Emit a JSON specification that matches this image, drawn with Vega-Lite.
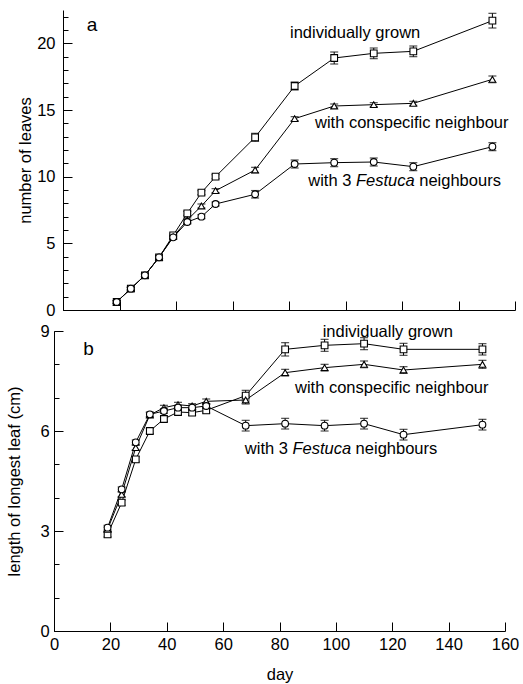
{
  "$schema": "https://vega.github.io/schema/vega-lite/v6.json",
  "padding": {"left": 6, "top": 10, "right": 5, "bottom": 0},
  "config": {
    "font": "Liberation Sans",
    "view": {"stroke": null},
    "axis": {"domainColor": "black", "tickColor": "black", "labelColor": "black", "titleColor": "black", "labelFontSize": 16.5, "titleFontSize": 16.5, "titleFontWeight": "normal", "grid": false, "domainWidth": 1, "tickWidth": 1, "labelFont": "Liberation Sans", "titleFont": "Liberation Sans", "labelFlush": false},
    "text": {"font": "Liberation Sans", "fontSize": 16.5, "color": "black"}
  },
  "datasets": {
    "d": [
      {"panel": "a", "series": "individually grown", "day": 19, "mean": 0.6, "lo": 0.5, "hi": 0.7},
      {"panel": "a", "series": "individually grown", "day": 24, "mean": 1.6, "lo": 1.5, "hi": 1.7},
      {"panel": "a", "series": "individually grown", "day": 29, "mean": 2.6, "lo": 2.5, "hi": 2.7},
      {"panel": "a", "series": "individually grown", "day": 34, "mean": 3.95, "lo": 3.85, "hi": 4.05},
      {"panel": "a", "series": "individually grown", "day": 39, "mean": 5.6, "lo": 5.5, "hi": 5.7},
      {"panel": "a", "series": "individually grown", "day": 44, "mean": 7.25, "lo": 7.1, "hi": 7.4},
      {"panel": "a", "series": "individually grown", "day": 49, "mean": 8.8, "lo": 8.65, "hi": 8.95},
      {"panel": "a", "series": "individually grown", "day": 54, "mean": 10.0, "lo": 9.85, "hi": 10.15},
      {"panel": "a", "series": "individually grown", "day": 68, "mean": 12.95, "lo": 12.65, "hi": 13.25},
      {"panel": "a", "series": "individually grown", "day": 82, "mean": 16.8, "lo": 16.5, "hi": 17.1},
      {"panel": "a", "series": "individually grown", "day": 96, "mean": 18.9, "lo": 18.45, "hi": 19.35},
      {"panel": "a", "series": "individually grown", "day": 110, "mean": 19.25, "lo": 18.85, "hi": 19.65},
      {"panel": "a", "series": "individually grown", "day": 124, "mean": 19.4, "lo": 19.0, "hi": 19.8},
      {"panel": "a", "series": "individually grown", "day": 152, "mean": 21.7, "lo": 21.15, "hi": 22.25},
      {"panel": "a", "series": "with conspecific neighbour", "day": 19, "mean": 0.6, "lo": 0.5, "hi": 0.7},
      {"panel": "a", "series": "with conspecific neighbour", "day": 24, "mean": 1.6, "lo": 1.5, "hi": 1.7},
      {"panel": "a", "series": "with conspecific neighbour", "day": 29, "mean": 2.6, "lo": 2.5, "hi": 2.7},
      {"panel": "a", "series": "with conspecific neighbour", "day": 34, "mean": 3.95, "lo": 3.85, "hi": 4.05},
      {"panel": "a", "series": "with conspecific neighbour", "day": 39, "mean": 5.5, "lo": 5.4, "hi": 5.6},
      {"panel": "a", "series": "with conspecific neighbour", "day": 44, "mean": 6.75, "lo": 6.6, "hi": 6.9},
      {"panel": "a", "series": "with conspecific neighbour", "day": 49, "mean": 7.8, "lo": 7.65, "hi": 7.95},
      {"panel": "a", "series": "with conspecific neighbour", "day": 54, "mean": 8.95, "lo": 8.8, "hi": 9.1},
      {"panel": "a", "series": "with conspecific neighbour", "day": 68, "mean": 10.5, "lo": 10.3, "hi": 10.7},
      {"panel": "a", "series": "with conspecific neighbour", "day": 82, "mean": 14.35, "lo": 14.2, "hi": 14.5},
      {"panel": "a", "series": "with conspecific neighbour", "day": 96, "mean": 15.3, "lo": 15.15, "hi": 15.45},
      {"panel": "a", "series": "with conspecific neighbour", "day": 110, "mean": 15.4, "lo": 15.25, "hi": 15.55},
      {"panel": "a", "series": "with conspecific neighbour", "day": 124, "mean": 15.5, "lo": 15.35, "hi": 15.65},
      {"panel": "a", "series": "with conspecific neighbour", "day": 152, "mean": 17.3, "lo": 17.05, "hi": 17.55},
      {"panel": "a", "series": "with 3 Festuca neighbours", "day": 19, "mean": 0.6, "lo": 0.5, "hi": 0.7},
      {"panel": "a", "series": "with 3 Festuca neighbours", "day": 24, "mean": 1.6, "lo": 1.5, "hi": 1.7},
      {"panel": "a", "series": "with 3 Festuca neighbours", "day": 29, "mean": 2.6, "lo": 2.5, "hi": 2.7},
      {"panel": "a", "series": "with 3 Festuca neighbours", "day": 34, "mean": 3.95, "lo": 3.85, "hi": 4.05},
      {"panel": "a", "series": "with 3 Festuca neighbours", "day": 39, "mean": 5.45, "lo": 5.35, "hi": 5.55},
      {"panel": "a", "series": "with 3 Festuca neighbours", "day": 44, "mean": 6.6, "lo": 6.45, "hi": 6.75},
      {"panel": "a", "series": "with 3 Festuca neighbours", "day": 49, "mean": 7.0, "lo": 6.85, "hi": 7.15},
      {"panel": "a", "series": "with 3 Festuca neighbours", "day": 54, "mean": 7.95, "lo": 7.8, "hi": 8.1},
      {"panel": "a", "series": "with 3 Festuca neighbours", "day": 68, "mean": 8.68, "lo": 8.4, "hi": 8.96},
      {"panel": "a", "series": "with 3 Festuca neighbours", "day": 82, "mean": 10.95, "lo": 10.65, "hi": 11.25},
      {"panel": "a", "series": "with 3 Festuca neighbours", "day": 96, "mean": 11.05, "lo": 10.75, "hi": 11.35},
      {"panel": "a", "series": "with 3 Festuca neighbours", "day": 110, "mean": 11.1, "lo": 10.8, "hi": 11.4},
      {"panel": "a", "series": "with 3 Festuca neighbours", "day": 124, "mean": 10.75, "lo": 10.45, "hi": 11.05},
      {"panel": "a", "series": "with 3 Festuca neighbours", "day": 152, "mean": 12.25, "lo": 11.95, "hi": 12.55},
      {"panel": "b", "series": "individually grown", "day": 19, "mean": 2.9, "lo": 2.82, "hi": 2.98},
      {"panel": "b", "series": "individually grown", "day": 24, "mean": 3.85, "lo": 3.77, "hi": 3.93},
      {"panel": "b", "series": "individually grown", "day": 29, "mean": 5.15, "lo": 5.07, "hi": 5.23},
      {"panel": "b", "series": "individually grown", "day": 34, "mean": 6.0, "lo": 5.92, "hi": 6.08},
      {"panel": "b", "series": "individually grown", "day": 39, "mean": 6.36, "lo": 6.28, "hi": 6.44},
      {"panel": "b", "series": "individually grown", "day": 44, "mean": 6.57, "lo": 6.49, "hi": 6.65},
      {"panel": "b", "series": "individually grown", "day": 49, "mean": 6.55, "lo": 6.47, "hi": 6.63},
      {"panel": "b", "series": "individually grown", "day": 54, "mean": 6.62, "lo": 6.54, "hi": 6.7},
      {"panel": "b", "series": "individually grown", "day": 68, "mean": 7.06, "lo": 6.9, "hi": 7.22},
      {"panel": "b", "series": "individually grown", "day": 82, "mean": 8.45, "lo": 8.25, "hi": 8.65},
      {"panel": "b", "series": "individually grown", "day": 96, "mean": 8.57, "lo": 8.39, "hi": 8.75},
      {"panel": "b", "series": "individually grown", "day": 110, "mean": 8.62, "lo": 8.44, "hi": 8.8},
      {"panel": "b", "series": "individually grown", "day": 124, "mean": 8.45, "lo": 8.27, "hi": 8.63},
      {"panel": "b", "series": "individually grown", "day": 152, "mean": 8.45, "lo": 8.28, "hi": 8.62},
      {"panel": "b", "series": "with conspecific neighbour", "day": 19, "mean": 3.05, "lo": 2.98, "hi": 3.12},
      {"panel": "b", "series": "with conspecific neighbour", "day": 24, "mean": 4.1, "lo": 4.03, "hi": 4.17},
      {"panel": "b", "series": "with conspecific neighbour", "day": 29, "mean": 5.5, "lo": 5.43, "hi": 5.57},
      {"panel": "b", "series": "with conspecific neighbour", "day": 34, "mean": 6.48, "lo": 6.41, "hi": 6.55},
      {"panel": "b", "series": "with conspecific neighbour", "day": 39, "mean": 6.7, "lo": 6.63, "hi": 6.77},
      {"panel": "b", "series": "with conspecific neighbour", "day": 44, "mean": 6.79, "lo": 6.72, "hi": 6.86},
      {"panel": "b", "series": "with conspecific neighbour", "day": 49, "mean": 6.75, "lo": 6.68, "hi": 6.82},
      {"panel": "b", "series": "with conspecific neighbour", "day": 54, "mean": 6.89, "lo": 6.82, "hi": 6.96},
      {"panel": "b", "series": "with conspecific neighbour", "day": 68, "mean": 6.93, "lo": 6.81, "hi": 7.05},
      {"panel": "b", "series": "with conspecific neighbour", "day": 82, "mean": 7.75, "lo": 7.65, "hi": 7.85},
      {"panel": "b", "series": "with conspecific neighbour", "day": 96, "mean": 7.9, "lo": 7.8, "hi": 8.0},
      {"panel": "b", "series": "with conspecific neighbour", "day": 110, "mean": 8.0, "lo": 7.9, "hi": 8.1},
      {"panel": "b", "series": "with conspecific neighbour", "day": 124, "mean": 7.83, "lo": 7.73, "hi": 7.93},
      {"panel": "b", "series": "with conspecific neighbour", "day": 152, "mean": 8.0, "lo": 7.88, "hi": 8.12},
      {"panel": "b", "series": "with 3 Festuca neighbours", "day": 19, "mean": 3.1, "lo": 3.03, "hi": 3.17},
      {"panel": "b", "series": "with 3 Festuca neighbours", "day": 24, "mean": 4.25, "lo": 4.18, "hi": 4.32},
      {"panel": "b", "series": "with 3 Festuca neighbours", "day": 29, "mean": 5.66, "lo": 5.59, "hi": 5.73},
      {"panel": "b", "series": "with 3 Festuca neighbours", "day": 34, "mean": 6.5, "lo": 6.43, "hi": 6.57},
      {"panel": "b", "series": "with 3 Festuca neighbours", "day": 39, "mean": 6.6, "lo": 6.53, "hi": 6.67},
      {"panel": "b", "series": "with 3 Festuca neighbours", "day": 44, "mean": 6.7, "lo": 6.63, "hi": 6.77},
      {"panel": "b", "series": "with 3 Festuca neighbours", "day": 49, "mean": 6.7, "lo": 6.63, "hi": 6.77},
      {"panel": "b", "series": "with 3 Festuca neighbours", "day": 54, "mean": 6.75, "lo": 6.68, "hi": 6.82},
      {"panel": "b", "series": "with 3 Festuca neighbours", "day": 68, "mean": 6.16, "lo": 6.0, "hi": 6.32},
      {"panel": "b", "series": "with 3 Festuca neighbours", "day": 82, "mean": 6.22, "lo": 6.06, "hi": 6.38},
      {"panel": "b", "series": "with 3 Festuca neighbours", "day": 96, "mean": 6.16, "lo": 6.0, "hi": 6.32},
      {"panel": "b", "series": "with 3 Festuca neighbours", "day": 110, "mean": 6.22, "lo": 6.06, "hi": 6.38},
      {"panel": "b", "series": "with 3 Festuca neighbours", "day": 124, "mean": 5.89, "lo": 5.73, "hi": 6.05},
      {"panel": "b", "series": "with 3 Festuca neighbours", "day": 152, "mean": 6.19, "lo": 6.03, "hi": 6.35}
    ],
    "notes": [
      {"panel": "a", "day": 80.35, "val": 20.75, "text": "individually grown"},
      {"panel": "a", "day": 89.2, "val": 14.05, "text": "with conspecific neighbour"},
      {"panel": "a", "day": 86.8, "val": 9.67, "text": "with 3"},
      {"panel": "a", "day": 126.1, "val": 9.67, "text": "neighbours"},
      {"panel": "b", "day": 95.3, "val": 8.97, "text": "individually grown"},
      {"panel": "b", "day": 85.5, "val": 7.29, "text": "with conspecific neighbour"},
      {"panel": "b", "day": 67.7, "val": 5.45, "text": "with 3"},
      {"panel": "b", "day": 107.0, "val": 5.45, "text": "neighbours"}
    ],
    "italic": [
      {"panel": "a", "day": 103.7, "val": 9.67, "text": "Festuca"},
      {"panel": "b", "day": 84.6, "val": 5.45, "text": "Festuca"}
    ],
    "letters": [
      {"panel": "a", "day": 8.4, "val": 21.35, "text": "a"},
      {"panel": "b", "day": 10.4, "val": 8.45, "text": "b"}
    ]
  },
  "columns": 1,
  "align": "none",
  "spacing": 4,
  "concat": [
    {
      "width": 461,
      "height": 300,
      "resolve": {"axis": {"y": "independent"}},
      "layer": [
        {
          "data": {"name": "d"},
          "transform": [{"filter": "datum.panel === 'a'"}],
          "mark": {"type": "rule", "color": "black", "strokeWidth": 1},
          "encoding": {
            "x": {"field": "day", "type": "quantitative", "scale": {"domain": [0, 160], "range": [9, 461], "nice": false, "zero": false}, "title": null,
                  "axis": {"values": [0,10,20,30,40,50,60,70,80,90,100,110,120,130,140,150,160], "labels": false,
                           "tickSize": {"condition": {"test": "datum.value % 20 === 0", "value": -9}, "value": -5}}},
            "y": {"field": "lo", "type": "quantitative", "scale": {"domain": [0, 22.5], "nice": false}, "title": "number of leaves",
                  "axis": {"orient": "left", "values": [0, 5, 10, 15, 20], "offset": -9, "labelOverlap": false,
                           "labelPadding": 17, "titlePadding": 3, "tickSize": -9}},
            "y2": {"field": "hi"}
          }
        },
        {
          "data": {"name": "d"},
          "transform": [{"filter": "datum.panel === 'a'"}],
          "mark": {"type": "tick", "orient": "horizontal", "size": 8, "thickness": 1.2, "color": "black"},
          "encoding": {"x": {"field": "day", "type": "quantitative", "title": null}, "y": {"field": "lo", "type": "quantitative", "axis": null}}
        },
        {
          "data": {"name": "d"},
          "transform": [{"filter": "datum.panel === 'a'"}],
          "mark": {"type": "tick", "orient": "horizontal", "size": 8, "thickness": 1.2, "color": "black"},
          "encoding": {"x": {"field": "day", "type": "quantitative", "title": null}, "y": {"field": "hi", "type": "quantitative", "axis": null}}
        },
        {
          "data": {"name": "d"},
          "transform": [{"filter": "datum.panel === 'a'"}],
          "mark": {"type": "line", "color": "black", "strokeWidth": 1},
          "encoding": {"x": {"field": "day", "type": "quantitative", "title": null},
                       "y": {"field": "mean", "type": "quantitative", "title": null,
                             "axis": {"orient": "left", "values": [0,1,2,3,4,5,6,7,8,9,10,11,12,13,14,15,16,17,18,19,20,21,22], "offset": -9, "labels": false, "domain": false, "tickSize": -5}},
                       "detail": {"field": "series"}}
        },
        {
          "data": {"name": "d"},
          "transform": [{"filter": "datum.panel === 'a'"}],
          "mark": {"type": "point", "filled": true, "fill": "white", "stroke": "black", "strokeWidth": 1.1, "size": 45, "opacity": 1},
          "encoding": {"x": {"field": "day", "type": "quantitative", "title": null}, "y": {"field": "mean", "type": "quantitative", "axis": null},
                       "shape": {"field": "series", "type": "nominal", "legend": null, "scale": {"domain": ["individually grown", "with conspecific neighbour", "with 3 Festuca neighbours"], "range": ["square", "triangle-up", "circle"]}}}
        },
        {
          "data": {"name": "notes"},
          "transform": [{"filter": "datum.panel === 'a'"}],
          "mark": {"type": "text", "align": "left", "baseline": "middle"},
          "encoding": {"x": {"field": "day", "type": "quantitative", "title": null}, "y": {"field": "val", "type": "quantitative", "axis": null}, "text": {"field": "text"}}
        },
        {
          "data": {"name": "italic"},
          "transform": [{"filter": "datum.panel === 'a'"}],
          "mark": {"type": "text", "align": "left", "baseline": "middle", "fontStyle": "italic"},
          "encoding": {"x": {"field": "day", "type": "quantitative", "title": null}, "y": {"field": "val", "type": "quantitative", "axis": null}, "text": {"field": "text"}}
        },
        {
          "data": {"name": "letters"},
          "transform": [{"filter": "datum.panel === 'a'"}],
          "mark": {"type": "text", "align": "left", "baseline": "middle", "fontSize": 19},
          "encoding": {"x": {"field": "day", "type": "quantitative", "title": null}, "y": {"field": "val", "type": "quantitative", "axis": null}, "text": {"field": "text"}}
        }
      ]
    },
    {
      "width": 451,
      "height": 300,
      "resolve": {"axis": {"y": "independent"}},
      "layer": [
        {
          "data": {"name": "d"},
          "transform": [{"filter": "datum.panel === 'b'"}],
          "mark": {"type": "rule", "color": "black", "strokeWidth": 1},
          "encoding": {
            "x": {"field": "day", "type": "quantitative", "scale": {"domain": [0, 160], "nice": false}, "title": "day",
                  "axis": {"values": [0,10,20,30,40,50,60,70,80,90,100,110,120,130,140,150,160], "labelPadding": 14, "titlePadding": 14,
                           "labelExpr": "datum.value % 20 === 0 ? datum.label : ''",
                           "tickSize": {"condition": {"test": "datum.value % 20 === 0", "value": -9}, "value": -5}}},
            "y": {"field": "lo", "type": "quantitative", "scale": {"domain": [0, 9], "nice": false}, "title": "length of longest leaf (cm)",
                  "axis": {"orient": "left", "values": [0, 3, 6, 9], "labelOverlap": false,
                           "labelPadding": 13.7, "titlePadding": 17.5, "tickSize": -9}},
            "y2": {"field": "hi"}
          }
        },
        {
          "data": {"name": "d"},
          "transform": [{"filter": "datum.panel === 'b'"}],
          "mark": {"type": "tick", "orient": "horizontal", "size": 8, "thickness": 1.2, "color": "black"},
          "encoding": {"x": {"field": "day", "type": "quantitative", "title": "day"}, "y": {"field": "lo", "type": "quantitative", "axis": null}}
        },
        {
          "data": {"name": "d"},
          "transform": [{"filter": "datum.panel === 'b'"}],
          "mark": {"type": "tick", "orient": "horizontal", "size": 8, "thickness": 1.2, "color": "black"},
          "encoding": {"x": {"field": "day", "type": "quantitative", "title": "day"}, "y": {"field": "hi", "type": "quantitative", "axis": null}}
        },
        {
          "data": {"name": "d"},
          "transform": [{"filter": "datum.panel === 'b'"}],
          "mark": {"type": "line", "color": "black", "strokeWidth": 1},
          "encoding": {"x": {"field": "day", "type": "quantitative", "title": "day"},
                       "y": {"field": "mean", "type": "quantitative", "title": null,
                             "axis": {"orient": "left", "values": [0,1,2,3,4,5,6,7,8,9], "labels": false, "domain": false, "tickSize": -5}},
                       "detail": {"field": "series"}}
        },
        {
          "data": {"name": "d"},
          "transform": [{"filter": "datum.panel === 'b'"}],
          "mark": {"type": "point", "filled": true, "fill": "white", "stroke": "black", "strokeWidth": 1.1, "size": 45, "opacity": 1},
          "encoding": {"x": {"field": "day", "type": "quantitative", "title": "day"}, "y": {"field": "mean", "type": "quantitative", "axis": null},
                       "shape": {"field": "series", "type": "nominal", "legend": null, "scale": {"domain": ["individually grown", "with conspecific neighbour", "with 3 Festuca neighbours"], "range": ["square", "triangle-up", "circle"]}}}
        },
        {
          "data": {"name": "notes"},
          "transform": [{"filter": "datum.panel === 'b'"}],
          "mark": {"type": "text", "align": "left", "baseline": "middle"},
          "encoding": {"x": {"field": "day", "type": "quantitative", "title": "day"}, "y": {"field": "val", "type": "quantitative", "axis": null}, "text": {"field": "text"}}
        },
        {
          "data": {"name": "italic"},
          "transform": [{"filter": "datum.panel === 'b'"}],
          "mark": {"type": "text", "align": "left", "baseline": "middle", "fontStyle": "italic"},
          "encoding": {"x": {"field": "day", "type": "quantitative", "title": "day"}, "y": {"field": "val", "type": "quantitative", "axis": null}, "text": {"field": "text"}}
        },
        {
          "data": {"name": "letters"},
          "transform": [{"filter": "datum.panel === 'b'"}],
          "mark": {"type": "text", "align": "left", "baseline": "middle", "fontSize": 19},
          "encoding": {"x": {"field": "day", "type": "quantitative", "title": "day"}, "y": {"field": "val", "type": "quantitative", "axis": null}, "text": {"field": "text"}}
        }
      ]
    }
  ]
}
